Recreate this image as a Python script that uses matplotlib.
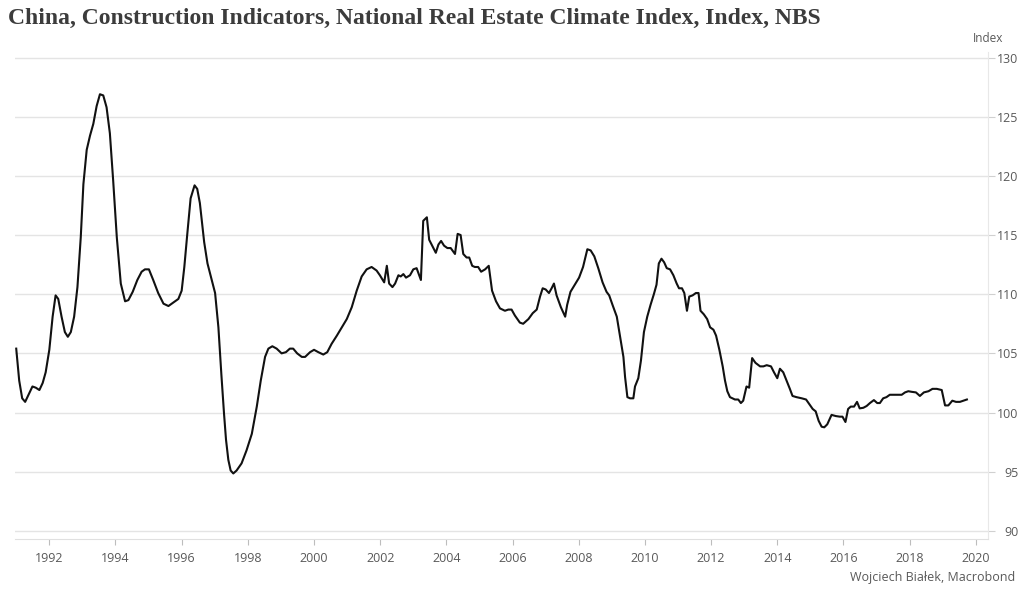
import matplotlib
matplotlib.use('Agg')
import matplotlib.pyplot as plt

# NBS climate index (decimal year, index value)
years = [
    1991.00, 1991.09, 1991.18, 1991.27, 1991.37, 1991.49, 1991.59, 1991.70, 1991.80, 1991.89,
    1992.00, 1992.10, 1992.19, 1992.27, 1992.37, 1992.47, 1992.56, 1992.65, 1992.75, 1992.85,
    1992.95, 1993.03, 1993.13, 1993.23, 1993.33, 1993.43, 1993.53, 1993.63, 1993.73, 1993.83,
    1993.93, 1994.04, 1994.16, 1994.29, 1994.39, 1994.52, 1994.66, 1994.79, 1994.89, 1995.01,
    1995.14, 1995.29, 1995.45, 1995.60, 1995.75, 1995.90, 1996.00, 1996.08, 1996.17, 1996.27,
    1996.39, 1996.47, 1996.55, 1996.68, 1996.78, 1996.91, 1997.01, 1997.11, 1997.20, 1997.28,
    1997.34, 1997.41, 1997.48, 1997.56, 1997.66, 1997.81, 1997.96, 1998.12, 1998.27, 1998.39,
    1998.52, 1998.62, 1998.74, 1998.87, 1999.02, 1999.15, 1999.27, 1999.37, 1999.49, 1999.63,
    1999.73, 1999.88, 2000.00, 2000.13, 2000.28, 2000.40, 2000.53, 2000.69, 2000.84, 2000.99,
    2001.14, 2001.29, 2001.44, 2001.59, 2001.74, 2001.89, 2001.99, 2002.12, 2002.20, 2002.27,
    2002.37, 2002.45, 2002.55, 2002.62, 2002.70, 2002.78, 2002.90, 2003.00, 2003.10, 2003.23,
    2003.30, 2003.41, 2003.48, 2003.59, 2003.68, 2003.76, 2003.84, 2003.93, 2004.03, 2004.13,
    2004.26, 2004.34, 2004.43, 2004.51, 2004.61, 2004.69, 2004.78, 2004.86, 2004.96, 2005.05,
    2005.17, 2005.28, 2005.38, 2005.50, 2005.62, 2005.77, 2005.87, 2005.97, 2006.07, 2006.22,
    2006.32, 2006.48, 2006.61, 2006.73, 2006.83, 2006.91, 2007.00, 2007.10, 2007.18, 2007.25,
    2007.33, 2007.46, 2007.59, 2007.65, 2007.75, 2007.88, 2008.01, 2008.13, 2008.26, 2008.36,
    2008.47, 2008.59, 2008.72, 2008.84, 2008.92, 2009.02, 2009.15, 2009.25, 2009.35, 2009.40,
    2009.47, 2009.55, 2009.65, 2009.70, 2009.80, 2009.88, 2009.97, 2010.07, 2010.17, 2010.27,
    2010.35, 2010.42, 2010.50, 2010.58, 2010.66, 2010.76, 2010.86, 2010.96, 2011.03, 2011.12,
    2011.19, 2011.27, 2011.34, 2011.44, 2011.54, 2011.62, 2011.68, 2011.78, 2011.88, 2011.97,
    2012.07, 2012.15, 2012.25, 2012.35, 2012.42, 2012.49, 2012.57, 2012.72, 2012.82, 2012.90,
    2012.97, 2013.07, 2013.15, 2013.24, 2013.34, 2013.48, 2013.58, 2013.68, 2013.81, 2013.90,
    2014.00, 2014.08, 2014.18, 2014.28, 2014.38, 2014.46, 2014.58, 2014.74, 2014.87, 2014.97,
    2015.07, 2015.16, 2015.25, 2015.34, 2015.42, 2015.51, 2015.64, 2015.77, 2015.89, 2015.97,
    2016.06, 2016.14, 2016.22, 2016.32, 2016.41, 2016.49, 2016.60, 2016.70, 2016.80, 2016.92,
    2017.02, 2017.10, 2017.20, 2017.30, 2017.40, 2017.55, 2017.76, 2017.86, 2017.96, 2018.06,
    2018.19, 2018.31, 2018.43, 2018.57, 2018.69, 2018.82, 2018.97, 2019.07, 2019.17, 2019.29,
    2019.40, 2019.52, 2019.63, 2019.73,
]
index_vals = [
    105.4, 102.7, 101.2, 100.9, 101.5, 102.2, 102.1, 101.9, 102.5, 103.4,
    105.3, 108.1, 109.9, 109.6, 108.1, 106.8, 106.4, 106.8, 108.1, 110.6,
    114.8, 119.3, 122.2, 123.4, 124.4, 125.9, 126.9, 126.8, 125.8, 123.6,
    119.6, 114.8, 110.9, 109.4, 109.5, 110.2, 111.2, 111.9, 112.1, 112.1,
    111.2, 110.1, 109.2, 109.0, 109.3, 109.6, 110.3, 112.3, 115.1, 118.1,
    119.2, 118.9, 117.7, 114.4, 112.6, 111.2, 110.1, 107.2, 103.2, 99.9,
    97.7, 96.0, 95.1, 94.85, 95.1, 95.7, 96.8, 98.2, 100.5, 102.7,
    104.7, 105.4, 105.6, 105.4, 105.0, 105.1, 105.4, 105.4, 105.0, 104.7,
    104.7, 105.1, 105.3, 105.1, 104.9, 105.1, 105.8, 106.5, 107.2, 107.9,
    108.9, 110.3, 111.5, 112.1, 112.3, 112.0, 111.6, 111.0, 112.4, 110.9,
    110.6, 110.9, 111.6, 111.5, 111.7, 111.4, 111.6, 112.1, 112.2, 111.2,
    116.2, 116.5, 114.6, 114.0, 113.5, 114.2, 114.5, 114.1, 113.9, 113.9,
    113.4, 115.1, 115.0, 113.4, 113.1, 113.1, 112.4, 112.3, 112.3, 111.9,
    112.1, 112.4, 110.3, 109.4, 108.8, 108.6, 108.7, 108.7, 108.2, 107.6,
    107.5, 107.9, 108.4, 108.7, 109.8, 110.5, 110.4, 110.1, 110.5, 110.9,
    109.9, 108.9, 108.1, 109.1, 110.2, 110.8, 111.4, 112.3, 113.8, 113.7,
    113.2, 112.2, 111.0, 110.2, 109.9, 109.1, 108.1, 106.4, 104.7, 103.0,
    101.3, 101.2, 101.2, 102.2, 102.9, 104.4, 106.8, 108.1, 109.1, 110.0,
    110.8, 112.6, 113.0, 112.7, 112.2, 112.1, 111.6, 110.9, 110.5, 110.5,
    110.1, 108.6, 109.8, 109.9, 110.1, 110.1, 108.6, 108.3, 107.9, 107.2,
    107.0, 106.5, 105.3, 103.9, 102.7, 101.8, 101.3, 101.1, 101.1, 100.8,
    101.0, 102.2, 102.1, 104.6, 104.2, 103.9, 103.9, 104.0, 103.9, 103.4,
    102.9, 103.7, 103.4, 102.7, 102.0, 101.4, 101.3, 101.2, 101.1, 100.7,
    100.3, 100.1, 99.3, 98.8, 98.75, 99.0, 99.8, 99.7, 99.65, 99.65,
    99.2, 100.3, 100.5, 100.5, 100.9, 100.35, 100.4, 100.55, 100.8, 101.05,
    100.8, 100.8, 101.2, 101.3, 101.5, 101.5, 101.5, 101.7, 101.8, 101.75,
    101.7, 101.4, 101.7, 101.8, 102.0, 102.0, 101.9, 100.6, 100.6, 101.0,
    100.9, 100.9, 101.0, 101.1,
]

x_ticks = list(range(1992, 2021, 2))
y_ticks = list(range(90, 131, 5))

grey = '#595959'
plt.rcParams['font.family'] = ['Open Sans', 'DejaVu Sans']

fig = plt.figure(figsize=(10.24, 5.94), dpi=100)
ax = fig.add_axes([15 / 1024, 1 - 539 / 594, (988 - 15) / 1024, (539 - 52) / 594])

ax.plot(years, index_vals, color='#111111', lw=1.5, solid_joinstyle='round')

ax.set_xlim(1990.963, 2020.368)
ax.set_ylim(89.31, 130.47)

ax.set_xticks(x_ticks)
ax.set_xticklabels([str(y) for y in x_ticks])
ax.set_yticks(y_ticks)
ax.set_yticklabels([str(v) for v in y_ticks])

ax.yaxis.tick_right()
ax.grid(axis='y', color='#e4e4e4', lw=1)
ax.set_axisbelow(True)

for s in ['left', 'top']:
    ax.spines[s].set_visible(False)
ax.spines['right'].set_color('#e8e8e8')
ax.spines['bottom'].set_color('#e0e0e0')

ax.tick_params(axis='x', length=4, color='#bdbdbd', labelcolor=grey, labelsize=9, pad=5)
ax.tick_params(axis='y', length=5, color='#d0d0d0', labelcolor=grey, labelsize=9, pad=17)
for lab in ax.get_yticklabels():
    lab.set_horizontalalignment('right')

fig.text(988 / 1024, 1 - 39 / 594, 'Index', ha='center', va='center', fontsize=8.5, color=grey)
fig.text(8 / 1024, 1 - 18 / 594, 'China, Construction Indicators, National Real Estate Climate Index, Index, NBS',
         ha='left', va='center', fontsize=17, fontweight='bold', color='#3c3c3c',
         family=['Liberation Serif', 'DejaVu Serif'])
fig.text(1015 / 1024, 1 - 577 / 594, 'Wojciech Białek, Macrobond', ha='right', va='center',
         fontsize=9, color=grey)

fig.savefig('out.png', dpi=100)
